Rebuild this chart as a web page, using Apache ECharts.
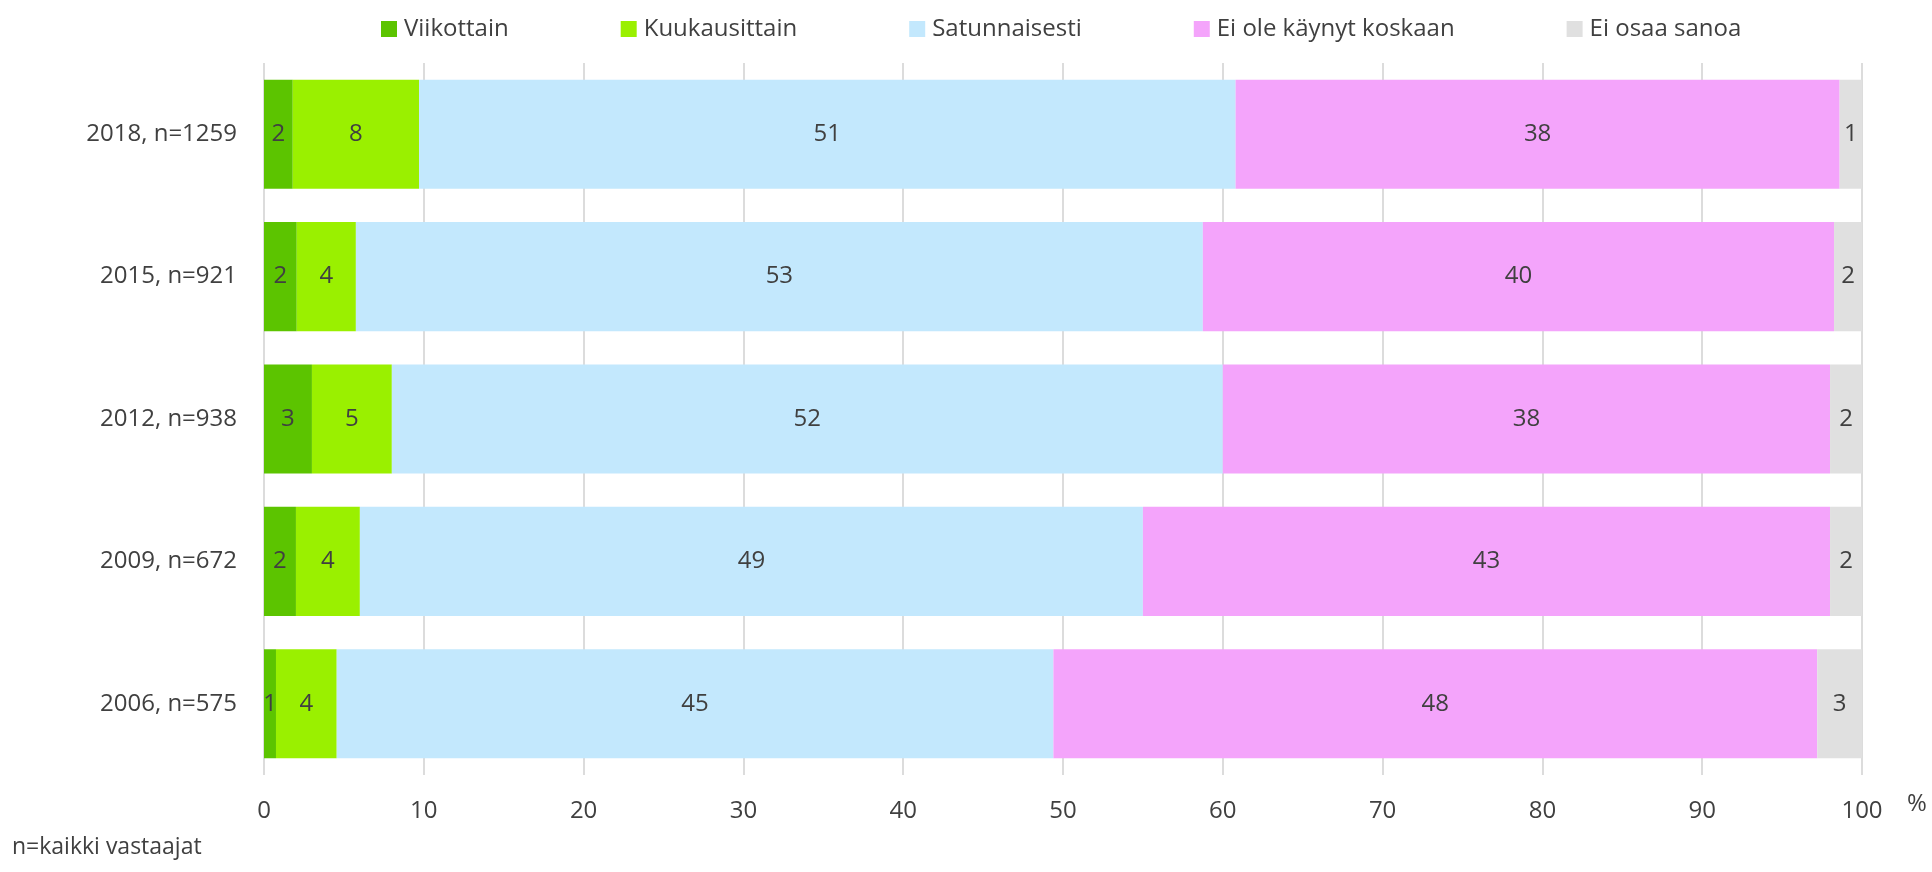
<!DOCTYPE html>
<html>
<head>
<meta charset="utf-8">
<script src="https://cdn.jsdelivr.net/npm/echarts@6/dist/echarts.min.js"></script>
<style>
  html, body { margin: 0; padding: 0; background: #fff; }
  #chart { width: 1932px; height: 872px; }
</style>
</head>
<body>
<div id="chart"></div>
<script>
// vuodet, ylhäältä alas
const categories = ['2018, n=1259', '2015, n=921', '2012, n=938', '2009, n=672', '2006, n=575']
const seriesNames = ['Viikottain', 'Kuukausittain', 'Satunnaisesti', 'Ei ole käynyt koskaan', 'Ei osaa sanoa']

const viikottain = [1.8, 2.05, 3.0, 2.0, 0.75]
const kuukausittain = [7.9, 3.7, 5.0, 4.0, 3.8]
const satunnaisesti = [51.1, 53.0, 52.0, 49.0, 44.85]
const eiOleKaynyt = [37.8, 39.5, 38.0, 43.0, 47.8]
const eiOsaaSanoa = [1.4, 1.75, 2.0, 2.0, 2.8]

const xTicks = [0, 10, 20, 30, 40, 50, 60, 70, 80, 90, 100]

const colors = ['#5cc400', '#9af000', '#c3e8fd', '#f4a4fb', '#e0e0e0']
const textColor = '#404040'
const fontFamily = 'Open Sans'

const chart = echarts.init(document.getElementById('chart'))

const seriesData = [viikottain, kuukausittain, satunnaisesti, eiOleKaynyt, eiOsaaSanoa]

chart.setOption({
  animation: false,
  textStyle: { fontFamily: fontFamily },
  color: colors,
  legend: {
    top: 12,
    left: 376,
    itemWidth: 16,
    itemHeight: 16,
    itemGap: 112,
    icon: 'rect',
    textStyle: { fontSize: 24, color: textColor, fontFamily: fontFamily, padding: [0, 0, 0, 2] },
    data: seriesNames
  },
  grid: {
    left: 264,
    right: 70,
    top: 63,
    bottom: 97
  },
  xAxis: {
    type: 'value',
    min: xTicks[0],
    max: xTicks[xTicks.length - 1],
    interval: 10,
    axisLine: { show: false },
    axisTick: { show: false },
    splitLine: { lineStyle: { color: '#d0d0d0', width: 1.5 } },
    axisLabel: { fontSize: 24, color: textColor, margin: 24 }
  },
  yAxis: {
    type: 'category',
    inverse: true,
    data: categories,
    axisLine: { show: false },
    axisTick: { show: false },
    axisLabel: { fontSize: 24, color: textColor, margin: 27 }
  },
  series: seriesNames.map((name, i) => ({
    name: name,
    type: 'bar',
    stack: 'total',
    barCategoryGap: '23.4%',
    data: seriesData[i],
    label: {
      show: true,
      position: 'inside',
      fontSize: 24,
      color: textColor,
      formatter: p => Math.round(p.value)
    }
  })),
  graphic: [
    {
      type: 'text',
      left: 1907,
      top: 792,
      style: { text: '%', fontSize: 24, fill: textColor, fontFamily: fontFamily }
    },
    {
      type: 'text',
      left: 12,
      top: 836,
      style: { text: 'n=kaikki vastaajat', fontSize: 23, fill: textColor, fontFamily: fontFamily }
    }
  ]
})
</script>
</body>
</html>
